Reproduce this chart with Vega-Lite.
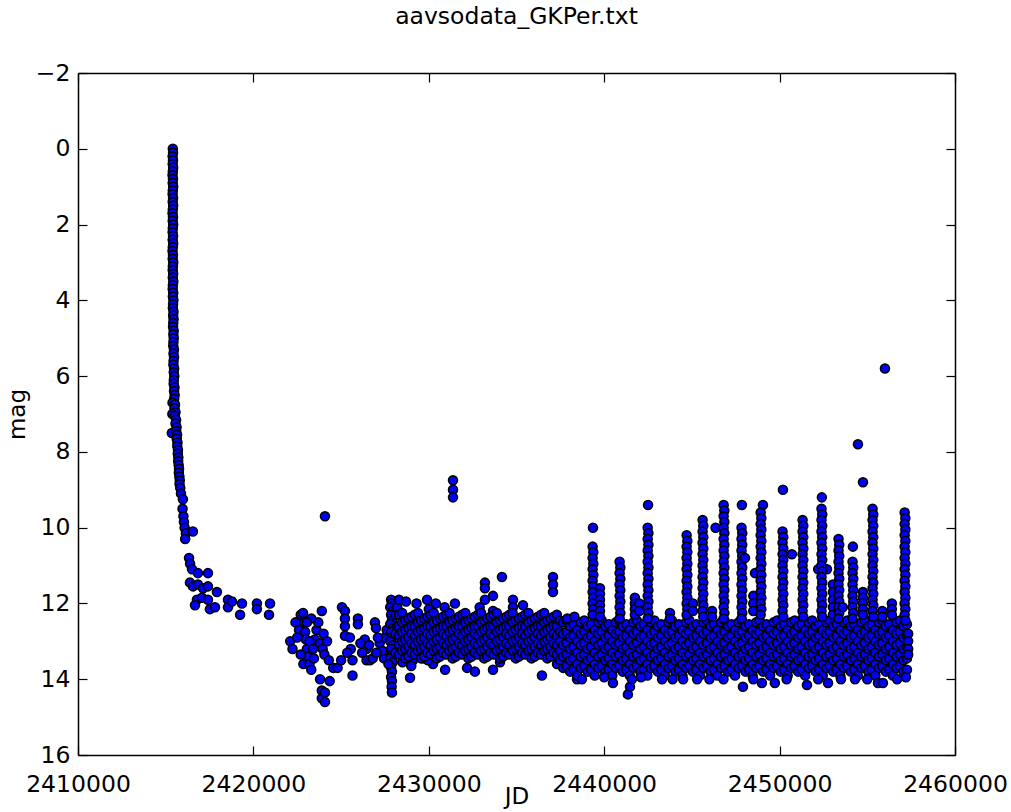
{
"$schema":"https://vega.github.io/schema/vega-lite/v6.json",
"width":877,"height":682,"autosize":"none",
"padding":{"left":78,"top":73,"right":56,"bottom":57},
"background":"white",
"title":{"text":"aavsodata_GKPer.txt","fontSize":23.5,"font":"DejaVu Sans","fontWeight":"normal","color":"black","offset":33,"anchor":"middle"},
"config":{"view":{"stroke":null},"axis":{"domainColor":"black","domainWidth":1.5,"tickColor":"black","tickSize":-9,"tickWidth":1.2,"grid":false,"labelFont":"DejaVu Sans","labelFontSize":23.5,"labelColor":"black","titleFont":"DejaVu Sans","titleFontSize":23,"titleFontWeight":"normal","titleColor":"black","labelFlush":false,"labelOverlap":false}},
"resolve":{"axis":{"x":"independent","y":"independent"}},
"layer":[
{"data":{"values":[
{"JD":2415405,"mag":0.0},{"JD":2415420,"mag":0.1},{"JD":2415395,"mag":0.2},{"JD":2415415,"mag":0.3},{"JD":2415400,"mag":0.4},{"JD":2415425,"mag":0.5},{"JD":2415405,"mag":0.6},{"JD":2415390,"mag":0.7},{"JD":2415415,"mag":0.8},{"JD":2415400,"mag":0.9},
{"JD":2415425,"mag":1.0},{"JD":2415405,"mag":1.1},{"JD":2415395,"mag":1.2},{"JD":2415420,"mag":1.3},{"JD":2415400,"mag":1.4},{"JD":2415425,"mag":1.5},{"JD":2415405,"mag":1.6},{"JD":2415390,"mag":1.7},{"JD":2415415,"mag":1.8},{"JD":2415400,"mag":1.9},
{"JD":2415425,"mag":2.0},{"JD":2415405,"mag":2.1},{"JD":2415395,"mag":2.2},{"JD":2415420,"mag":2.3},{"JD":2415400,"mag":2.4},{"JD":2415425,"mag":2.5},{"JD":2415405,"mag":2.6},{"JD":2415390,"mag":2.7},{"JD":2415415,"mag":2.8},{"JD":2415400,"mag":2.9},
{"JD":2415430,"mag":3.0},{"JD":2415410,"mag":3.1},{"JD":2415400,"mag":3.2},{"JD":2415425,"mag":3.3},{"JD":2415405,"mag":3.4},{"JD":2415435,"mag":3.5},{"JD":2415410,"mag":3.6},{"JD":2415400,"mag":3.7},{"JD":2415430,"mag":3.8},{"JD":2415410,"mag":3.9},
{"JD":2415440,"mag":4.0},{"JD":2415420,"mag":4.1},{"JD":2415410,"mag":4.2},{"JD":2415445,"mag":4.3},{"JD":2415425,"mag":4.4},{"JD":2415450,"mag":4.5},{"JD":2415430,"mag":4.6},{"JD":2415420,"mag":4.7},{"JD":2415455,"mag":4.8},{"JD":2415435,"mag":4.9},
{"JD":2415460,"mag":5.0},{"JD":2415440,"mag":5.1},{"JD":2415430,"mag":5.2},{"JD":2415470,"mag":5.3},{"JD":2415445,"mag":5.4},{"JD":2415475,"mag":5.5},{"JD":2415450,"mag":5.6},{"JD":2415440,"mag":5.7},{"JD":2415480,"mag":5.8},{"JD":2415460,"mag":5.9},
{"JD":2415490,"mag":6.0},{"JD":2415465,"mag":6.1},{"JD":2415455,"mag":6.2},{"JD":2415500,"mag":6.3},{"JD":2415475,"mag":6.4},{"JD":2415510,"mag":6.5},{"JD":2415485,"mag":6.6},{"JD":2415390,"mag":6.7},{"JD":2415530,"mag":6.75},{"JD":2415500,"mag":6.85},
{"JD":2415560,"mag":6.95},{"JD":2415380,"mag":7.0},{"JD":2415520,"mag":7.05},{"JD":2415590,"mag":7.15},{"JD":2415560,"mag":7.25},{"JD":2415620,"mag":7.35},{"JD":2415350,"mag":7.5},{"JD":2415600,"mag":7.45},{"JD":2415650,"mag":7.55},{"JD":2415630,"mag":7.65},
{"JD":2415670,"mag":7.75},{"JD":2415660,"mag":7.85},{"JD":2415700,"mag":7.95},{"JD":2415690,"mag":8.05},{"JD":2415720,"mag":8.15},{"JD":2415710,"mag":8.25},{"JD":2415740,"mag":8.35},{"JD":2415760,"mag":8.45},{"JD":2415750,"mag":8.55},{"JD":2415780,"mag":8.65},
{"JD":2415800,"mag":8.75},{"JD":2415790,"mag":8.85},{"JD":2415830,"mag":8.95},{"JD":2415870,"mag":9.1},{"JD":2415980,"mag":9.25},{"JD":2415960,"mag":9.5},{"JD":2416010,"mag":9.7},{"JD":2416040,"mag":9.85},{"JD":2416080,"mag":10.0},{"JD":2416150,"mag":10.15},
{"JD":2416110,"mag":10.3},{"JD":2416550,"mag":10.1},{"JD":2416330,"mag":10.8},{"JD":2416390,"mag":10.95},{"JD":2416500,"mag":11.1},{"JD":2416840,"mag":11.2},{"JD":2417410,"mag":11.2},{"JD":2416380,"mag":11.45},{"JD":2416560,"mag":11.55},{"JD":2416840,"mag":11.5},
{"JD":2417130,"mag":11.6},{"JD":2417410,"mag":11.55},{"JD":2417920,"mag":11.7},{"JD":2416780,"mag":11.9},{"JD":2416670,"mag":12.05},{"JD":2417070,"mag":11.85},{"JD":2417410,"mag":11.9},{"JD":2417520,"mag":12.15},{"JD":2417810,"mag":12.1},{"JD":2418550,"mag":11.9},
{"JD":2418550,"mag":12.1},{"JD":2418780,"mag":11.95},{"JD":2419350,"mag":12.0},{"JD":2419240,"mag":12.3},{"JD":2420200,"mag":12.0},{"JD":2420200,"mag":12.15},{"JD":2420950,"mag":12.0},{"JD":2420890,"mag":12.3},
{"JD":2422100,"mag":13.0},{"JD":2422230,"mag":13.2},{"JD":2422400,"mag":12.5},{"JD":2422600,"mag":12.7},{"JD":2422700,"mag":12.3},{"JD":2422830,"mag":12.25},{"JD":2422900,"mag":12.5},{"JD":2422950,"mag":12.75},{"JD":2423000,"mag":12.95},{"JD":2423050,"mag":13.2},
{"JD":2423100,"mag":13.4},{"JD":2422850,"mag":13.6},{"JD":2422700,"mag":13.35},{"JD":2423200,"mag":13.6},{"JD":2423300,"mag":13.75},{"JD":2423450,"mag":13.45},{"JD":2423500,"mag":12.95},{"JD":2423600,"mag":12.7},{"JD":2423700,"mag":12.5},{"JD":2423900,"mag":12.2},
{"JD":2423800,"mag":13.05},{"JD":2423950,"mag":13.2},{"JD":2424050,"mag":13.35},{"JD":2423800,"mag":14.0},{"JD":2423900,"mag":14.3},{"JD":2423900,"mag":14.5},{"JD":2424080,"mag":14.6},{"JD":2424080,"mag":14.35},{"JD":2424350,"mag":14.05},{"JD":2424550,"mag":13.7},
{"JD":2424800,"mag":13.7},{"JD":2424080,"mag":9.7},{"JD":2423300,"mag":12.4},{"JD":2423050,"mag":12.5},{"JD":2423200,"mag":13.0},{"JD":2424000,"mag":12.8},{"JD":2424200,"mag":13.0},{"JD":2424300,"mag":13.5},{"JD":2422500,"mag":12.9},{"JD":2423400,"mag":13.2},
{"JD":2425050,"mag":12.1},{"JD":2425220,"mag":12.2},{"JD":2425220,"mag":12.4},{"JD":2425220,"mag":12.6},{"JD":2425220,"mag":12.85},{"JD":2425500,"mag":12.9},{"JD":2425550,"mag":13.2},{"JD":2425650,"mag":13.5},{"JD":2425650,"mag":13.9},{"JD":2425960,"mag":12.4},
{"JD":2425960,"mag":12.55},{"JD":2426350,"mag":12.95},{"JD":2426450,"mag":13.2},{"JD":2426450,"mag":13.5},{"JD":2426650,"mag":13.5},{"JD":2426800,"mag":13.45},{"JD":2426930,"mag":12.5},{"JD":2426990,"mag":12.65},{"JD":2427200,"mag":13.05},{"JD":2427450,"mag":13.45},
{"JD":2427350,"mag":13.25},{"JD":2427500,"mag":12.9},{"JD":2425000,"mag":13.5},{"JD":2425350,"mag":13.3},{"JD":2426100,"mag":13.05},{"JD":2426200,"mag":13.3},{"JD":2426600,"mag":13.1},{"JD":2427000,"mag":13.3},{"JD":2427100,"mag":12.9},{"JD":2427600,"mag":12.7},
{"JD":2427850,"mag":11.9},{"JD":2427900,"mag":12.0},{"JD":2427800,"mag":12.1},{"JD":2427950,"mag":12.2},{"JD":2427850,"mag":12.3},{"JD":2427900,"mag":12.45},{"JD":2427800,"mag":12.55},{"JD":2427950,"mag":12.65},{"JD":2427850,"mag":12.75},{"JD":2427900,"mag":12.9},
{"JD":2427800,"mag":13.0},{"JD":2427950,"mag":13.1},{"JD":2427850,"mag":13.2},{"JD":2427900,"mag":13.35},{"JD":2427800,"mag":13.45},{"JD":2427950,"mag":13.55},{"JD":2427850,"mag":13.7},{"JD":2427900,"mag":13.8},{"JD":2427850,"mag":13.95},{"JD":2427900,"mag":14.05},
{"JD":2427880,"mag":14.2},{"JD":2427900,"mag":14.35},{"JD":2427700,"mag":13.6},{"JD":2428100,"mag":12.3},{"JD":2428100,"mag":12.8},{"JD":2428100,"mag":13.3},{"JD":2428200,"mag":12.1},{"JD":2428200,"mag":12.6},
{"JD":2428300,"mag":11.9},{"JD":2428700,"mag":11.95},{"JD":2429300,"mag":12.0},{"JD":2429900,"mag":11.9},{"JD":2430400,"mag":12.0},{"JD":2430900,"mag":12.1},{"JD":2431490,"mag":12.0},{"JD":2428500,"mag":13.55},{"JD":2429100,"mag":13.5},{"JD":2429700,"mag":13.45},
{"JD":2430930,"mag":13.75},{"JD":2428930,"mag":13.96},{"JD":2429670,"mag":13.4},{"JD":2430240,"mag":13.6},{"JD":2429950,"mag":13.5},{"JD":2432180,"mag":13.7},{"JD":2432630,"mag":13.8},{"JD":2433660,"mag":13.75},{"JD":2434060,"mag":13.55},{"JD":2436450,"mag":13.9},
{"JD":2437310,"mag":13.6},{"JD":2438450,"mag":14.0},{"JD":2431380,"mag":8.75},{"JD":2431380,"mag":9.0},{"JD":2431380,"mag":9.2},{"JD":2434170,"mag":11.3},{"JD":2433200,"mag":11.45},{"JD":2433200,"mag":11.6},{"JD":2433660,"mag":11.8},{"JD":2433200,"mag":11.9},
{"JD":2432900,"mag":12.1},{"JD":2433660,"mag":12.2},{"JD":2437080,"mag":11.3},{"JD":2437080,"mag":11.5},{"JD":2437080,"mag":11.7},{"JD":2434800,"mag":11.9},{"JD":2435370,"mag":12.05},{"JD":2434800,"mag":12.1},{"JD":2430000,"mag":12.15},{"JD":2429000,"mag":13.65},
{"JD":2428300,"mag":12.3},{"JD":2428300,"mag":12.6},{"JD":2428300,"mag":12.85},{"JD":2428300,"mag":13.1},{"JD":2428300,"mag":13.35},
{"JD":2428480,"mag":12.25},{"JD":2428480,"mag":12.5},{"JD":2428480,"mag":12.75},{"JD":2428480,"mag":13.0},{"JD":2428480,"mag":13.25},
{"JD":2428660,"mag":12.45},{"JD":2428660,"mag":12.7},{"JD":2428660,"mag":12.95},{"JD":2428660,"mag":13.2},{"JD":2428660,"mag":13.45},
{"JD":2428840,"mag":12.4},{"JD":2428840,"mag":12.65},{"JD":2428840,"mag":12.9},{"JD":2428840,"mag":13.15},{"JD":2428840,"mag":13.4},
{"JD":2429020,"mag":12.35},{"JD":2429020,"mag":12.6},{"JD":2429020,"mag":12.8},{"JD":2429020,"mag":13.05},{"JD":2429020,"mag":13.3},
{"JD":2429200,"mag":12.3},{"JD":2429200,"mag":12.6},{"JD":2429200,"mag":12.85},{"JD":2429200,"mag":13.1},{"JD":2429200,"mag":13.35},
{"JD":2429380,"mag":12.25},{"JD":2429380,"mag":12.5},{"JD":2429380,"mag":12.75},{"JD":2429380,"mag":13.0},{"JD":2429380,"mag":13.25},
{"JD":2429560,"mag":12.45},{"JD":2429560,"mag":12.7},{"JD":2429560,"mag":12.95},{"JD":2429560,"mag":13.2},{"JD":2429560,"mag":13.45},
{"JD":2429740,"mag":12.4},{"JD":2429740,"mag":12.65},{"JD":2429740,"mag":12.9},{"JD":2429740,"mag":13.15},{"JD":2429740,"mag":13.4},
{"JD":2429920,"mag":12.35},{"JD":2429920,"mag":12.6},{"JD":2429920,"mag":12.8},{"JD":2429920,"mag":13.05},{"JD":2429920,"mag":13.3},
{"JD":2430100,"mag":12.3},{"JD":2430100,"mag":12.6},{"JD":2430100,"mag":12.85},{"JD":2430100,"mag":13.1},{"JD":2430100,"mag":13.35},
{"JD":2430280,"mag":12.25},{"JD":2430280,"mag":12.5},{"JD":2430280,"mag":12.75},{"JD":2430280,"mag":13.0},{"JD":2430280,"mag":13.25},
{"JD":2430460,"mag":12.45},{"JD":2430460,"mag":12.7},{"JD":2430460,"mag":12.95},{"JD":2430460,"mag":13.2},{"JD":2430460,"mag":13.45},
{"JD":2430640,"mag":12.4},{"JD":2430640,"mag":12.65},{"JD":2430640,"mag":12.9},{"JD":2430640,"mag":13.15},{"JD":2430640,"mag":13.4},
{"JD":2430820,"mag":12.35},{"JD":2430820,"mag":12.6},{"JD":2430820,"mag":12.8},{"JD":2430820,"mag":13.05},{"JD":2430820,"mag":13.3},
{"JD":2431000,"mag":12.3},{"JD":2431000,"mag":12.6},{"JD":2431000,"mag":12.85},{"JD":2431000,"mag":13.1},{"JD":2431000,"mag":13.35},
{"JD":2431180,"mag":12.25},{"JD":2431180,"mag":12.5},{"JD":2431180,"mag":12.75},{"JD":2431180,"mag":13.0},{"JD":2431180,"mag":13.25},
{"JD":2431360,"mag":12.45},{"JD":2431360,"mag":12.7},{"JD":2431360,"mag":12.95},{"JD":2431360,"mag":13.2},{"JD":2431360,"mag":13.45},
{"JD":2431540,"mag":12.4},{"JD":2431540,"mag":12.65},{"JD":2431540,"mag":12.9},{"JD":2431540,"mag":13.15},{"JD":2431540,"mag":13.4},
{"JD":2431720,"mag":12.35},{"JD":2431720,"mag":12.6},{"JD":2431720,"mag":12.8},{"JD":2431720,"mag":13.05},{"JD":2431720,"mag":13.3},
{"JD":2431900,"mag":12.3},{"JD":2431900,"mag":12.6},{"JD":2431900,"mag":12.85},{"JD":2431900,"mag":13.1},{"JD":2431900,"mag":13.35},
{"JD":2432080,"mag":12.25},{"JD":2432080,"mag":12.5},{"JD":2432080,"mag":12.75},{"JD":2432080,"mag":13.0},{"JD":2432080,"mag":13.25},
{"JD":2432260,"mag":12.45},{"JD":2432260,"mag":12.7},{"JD":2432260,"mag":12.95},{"JD":2432260,"mag":13.2},{"JD":2432260,"mag":13.45},
{"JD":2432440,"mag":12.4},{"JD":2432440,"mag":12.65},{"JD":2432440,"mag":12.9},{"JD":2432440,"mag":13.15},{"JD":2432440,"mag":13.4},
{"JD":2432620,"mag":12.35},{"JD":2432620,"mag":12.6},{"JD":2432620,"mag":12.8},{"JD":2432620,"mag":13.05},{"JD":2432620,"mag":13.3},
{"JD":2432800,"mag":12.3},{"JD":2432800,"mag":12.6},{"JD":2432800,"mag":12.85},{"JD":2432800,"mag":13.1},{"JD":2432800,"mag":13.35},
{"JD":2432980,"mag":12.25},{"JD":2432980,"mag":12.5},{"JD":2432980,"mag":12.75},{"JD":2432980,"mag":13.0},{"JD":2432980,"mag":13.25},
{"JD":2433160,"mag":12.45},{"JD":2433160,"mag":12.7},{"JD":2433160,"mag":12.95},{"JD":2433160,"mag":13.2},{"JD":2433160,"mag":13.45},
{"JD":2433340,"mag":12.4},{"JD":2433340,"mag":12.65},{"JD":2433340,"mag":12.9},{"JD":2433340,"mag":13.15},{"JD":2433340,"mag":13.4},
{"JD":2433520,"mag":12.35},{"JD":2433520,"mag":12.6},{"JD":2433520,"mag":12.8},{"JD":2433520,"mag":13.05},{"JD":2433520,"mag":13.3},
{"JD":2433700,"mag":12.3},{"JD":2433700,"mag":12.6},{"JD":2433700,"mag":12.85},{"JD":2433700,"mag":13.1},{"JD":2433700,"mag":13.35},
{"JD":2433880,"mag":12.25},{"JD":2433880,"mag":12.5},{"JD":2433880,"mag":12.75},{"JD":2433880,"mag":13.0},{"JD":2433880,"mag":13.25},
{"JD":2434060,"mag":12.45},{"JD":2434060,"mag":12.7},{"JD":2434060,"mag":12.95},{"JD":2434060,"mag":13.2},{"JD":2434060,"mag":13.45},
{"JD":2434240,"mag":12.4},{"JD":2434240,"mag":12.65},{"JD":2434240,"mag":12.9},{"JD":2434240,"mag":13.15},{"JD":2434240,"mag":13.4},
{"JD":2434420,"mag":12.35},{"JD":2434420,"mag":12.6},{"JD":2434420,"mag":12.8},{"JD":2434420,"mag":13.05},{"JD":2434420,"mag":13.3},
{"JD":2434600,"mag":12.3},{"JD":2434600,"mag":12.6},{"JD":2434600,"mag":12.85},{"JD":2434600,"mag":13.1},{"JD":2434600,"mag":13.35},
{"JD":2434780,"mag":12.25},{"JD":2434780,"mag":12.5},{"JD":2434780,"mag":12.75},{"JD":2434780,"mag":13.0},{"JD":2434780,"mag":13.25},
{"JD":2434960,"mag":12.45},{"JD":2434960,"mag":12.7},{"JD":2434960,"mag":12.95},{"JD":2434960,"mag":13.2},{"JD":2434960,"mag":13.45},
{"JD":2435140,"mag":12.4},{"JD":2435140,"mag":12.65},{"JD":2435140,"mag":12.9},{"JD":2435140,"mag":13.15},{"JD":2435140,"mag":13.4},
{"JD":2435320,"mag":12.35},{"JD":2435320,"mag":12.6},{"JD":2435320,"mag":12.8},{"JD":2435320,"mag":13.05},{"JD":2435320,"mag":13.3},
{"JD":2435500,"mag":12.3},{"JD":2435500,"mag":12.6},{"JD":2435500,"mag":12.85},{"JD":2435500,"mag":13.1},{"JD":2435500,"mag":13.35},
{"JD":2435680,"mag":12.25},{"JD":2435680,"mag":12.5},{"JD":2435680,"mag":12.75},{"JD":2435680,"mag":13.0},{"JD":2435680,"mag":13.25},
{"JD":2435860,"mag":12.45},{"JD":2435860,"mag":12.7},{"JD":2435860,"mag":12.95},{"JD":2435860,"mag":13.2},{"JD":2435860,"mag":13.45},
{"JD":2436040,"mag":12.4},{"JD":2436040,"mag":12.65},{"JD":2436040,"mag":12.9},{"JD":2436040,"mag":13.15},{"JD":2436040,"mag":13.4},
{"JD":2436220,"mag":12.35},{"JD":2436220,"mag":12.6},{"JD":2436220,"mag":12.8},{"JD":2436220,"mag":13.05},{"JD":2436220,"mag":13.3},
{"JD":2436400,"mag":12.3},{"JD":2436400,"mag":12.6},{"JD":2436400,"mag":12.85},{"JD":2436400,"mag":13.1},{"JD":2436400,"mag":13.35},
{"JD":2436580,"mag":12.25},{"JD":2436580,"mag":12.5},{"JD":2436580,"mag":12.75},{"JD":2436580,"mag":13.0},{"JD":2436580,"mag":13.25},
{"JD":2436760,"mag":12.45},{"JD":2436760,"mag":12.7},{"JD":2436760,"mag":12.95},{"JD":2436760,"mag":13.2},{"JD":2436760,"mag":13.45},
{"JD":2436940,"mag":12.4},{"JD":2436940,"mag":12.65},{"JD":2436940,"mag":12.9},{"JD":2436940,"mag":13.15},{"JD":2436940,"mag":13.4},
{"JD":2437120,"mag":12.35},{"JD":2437120,"mag":12.6},{"JD":2437120,"mag":12.8},{"JD":2437120,"mag":13.05},{"JD":2437120,"mag":13.3},
{"JD":2437300,"mag":12.3},{"JD":2437300,"mag":12.6},{"JD":2437300,"mag":12.85},{"JD":2437300,"mag":13.1},{"JD":2437300,"mag":13.35},
{"JD":2437480,"mag":12.45},{"JD":2437480,"mag":12.75},{"JD":2437480,"mag":13.0},{"JD":2437480,"mag":13.25},{"JD":2437480,"mag":13.5},
{"JD":2437660,"mag":12.5},{"JD":2437660,"mag":12.8},{"JD":2437660,"mag":13.1},{"JD":2437660,"mag":13.4},{"JD":2437660,"mag":13.7},
{"JD":2437860,"mag":12.45},{"JD":2437860,"mag":12.75},{"JD":2437860,"mag":13.05},{"JD":2437860,"mag":13.35},{"JD":2437860,"mag":13.65},
{"JD":2438060,"mag":12.6},{"JD":2438060,"mag":12.9},{"JD":2438060,"mag":13.2},{"JD":2438060,"mag":13.5},{"JD":2438060,"mag":13.8},
{"JD":2438260,"mag":12.55},{"JD":2438260,"mag":12.85},{"JD":2438260,"mag":13.15},{"JD":2438260,"mag":13.45},{"JD":2438260,"mag":13.75},
{"JD":2438460,"mag":12.7},{"JD":2438460,"mag":13.0},{"JD":2438460,"mag":13.3},{"JD":2438460,"mag":13.6},{"JD":2438460,"mag":13.9},
{"JD":2438660,"mag":12.5},{"JD":2438660,"mag":12.8},{"JD":2438660,"mag":13.1},{"JD":2438660,"mag":13.4},{"JD":2438660,"mag":13.7},
{"JD":2438860,"mag":12.45},{"JD":2438860,"mag":12.75},{"JD":2438860,"mag":13.05},{"JD":2438860,"mag":13.35},{"JD":2438860,"mag":13.65},
{"JD":2439060,"mag":12.6},{"JD":2439060,"mag":12.9},{"JD":2439060,"mag":13.2},{"JD":2439060,"mag":13.5},{"JD":2439060,"mag":13.8},
{"JD":2439260,"mag":12.55},{"JD":2439260,"mag":12.85},{"JD":2439260,"mag":13.15},{"JD":2439260,"mag":13.45},{"JD":2439260,"mag":13.75},
{"JD":2439460,"mag":12.7},{"JD":2439460,"mag":13.0},{"JD":2439460,"mag":13.3},{"JD":2439460,"mag":13.6},{"JD":2439460,"mag":13.9},
{"JD":2439660,"mag":12.5},{"JD":2439660,"mag":12.8},{"JD":2439660,"mag":13.1},{"JD":2439660,"mag":13.4},{"JD":2439660,"mag":13.7},
{"JD":2439860,"mag":12.45},{"JD":2439860,"mag":12.75},{"JD":2439860,"mag":13.05},{"JD":2439860,"mag":13.35},{"JD":2439860,"mag":13.65},
{"JD":2440060,"mag":12.6},{"JD":2440060,"mag":12.9},{"JD":2440060,"mag":13.2},{"JD":2440060,"mag":13.5},{"JD":2440060,"mag":13.8},
{"JD":2440260,"mag":12.55},{"JD":2440260,"mag":12.85},{"JD":2440260,"mag":13.15},{"JD":2440260,"mag":13.45},{"JD":2440260,"mag":13.75},
{"JD":2440460,"mag":12.7},{"JD":2440460,"mag":13.0},{"JD":2440460,"mag":13.3},{"JD":2440460,"mag":13.6},{"JD":2440460,"mag":13.9},
{"JD":2440660,"mag":12.5},{"JD":2440660,"mag":12.8},{"JD":2440660,"mag":13.1},{"JD":2440660,"mag":13.4},{"JD":2440660,"mag":13.7},
{"JD":2440860,"mag":12.45},{"JD":2440860,"mag":12.75},{"JD":2440860,"mag":13.05},{"JD":2440860,"mag":13.35},{"JD":2440860,"mag":13.65},
{"JD":2441060,"mag":12.6},{"JD":2441060,"mag":12.9},{"JD":2441060,"mag":13.2},{"JD":2441060,"mag":13.5},{"JD":2441060,"mag":13.8},
{"JD":2441260,"mag":12.55},{"JD":2441260,"mag":12.85},{"JD":2441260,"mag":13.15},{"JD":2441260,"mag":13.45},{"JD":2441260,"mag":13.75},
{"JD":2441460,"mag":12.7},{"JD":2441460,"mag":13.0},{"JD":2441460,"mag":13.3},{"JD":2441460,"mag":13.6},{"JD":2441460,"mag":13.9},
{"JD":2441660,"mag":12.5},{"JD":2441660,"mag":12.8},{"JD":2441660,"mag":13.1},{"JD":2441660,"mag":13.4},{"JD":2441660,"mag":13.7},
{"JD":2441860,"mag":12.45},{"JD":2441860,"mag":12.75},{"JD":2441860,"mag":13.05},{"JD":2441860,"mag":13.35},{"JD":2441860,"mag":13.65},
{"JD":2442060,"mag":12.6},{"JD":2442060,"mag":12.9},{"JD":2442060,"mag":13.2},{"JD":2442060,"mag":13.5},{"JD":2442060,"mag":13.8},
{"JD":2442260,"mag":12.55},{"JD":2442260,"mag":12.85},{"JD":2442260,"mag":13.15},{"JD":2442260,"mag":13.45},{"JD":2442260,"mag":13.75},
{"JD":2442460,"mag":12.7},{"JD":2442460,"mag":13.0},{"JD":2442460,"mag":13.3},{"JD":2442460,"mag":13.6},{"JD":2442460,"mag":13.9},
{"JD":2442660,"mag":12.5},{"JD":2442660,"mag":12.8},{"JD":2442660,"mag":13.1},{"JD":2442660,"mag":13.4},{"JD":2442660,"mag":13.7},
{"JD":2442860,"mag":12.45},{"JD":2442860,"mag":12.75},{"JD":2442860,"mag":13.05},{"JD":2442860,"mag":13.35},{"JD":2442860,"mag":13.65},
{"JD":2443060,"mag":12.6},{"JD":2443060,"mag":12.9},{"JD":2443060,"mag":13.2},{"JD":2443060,"mag":13.5},{"JD":2443060,"mag":13.8},
{"JD":2443260,"mag":12.55},{"JD":2443260,"mag":12.85},{"JD":2443260,"mag":13.15},{"JD":2443260,"mag":13.45},{"JD":2443260,"mag":13.75},
{"JD":2443460,"mag":12.7},{"JD":2443460,"mag":13.0},{"JD":2443460,"mag":13.3},{"JD":2443460,"mag":13.6},{"JD":2443460,"mag":13.9},
{"JD":2443660,"mag":12.5},{"JD":2443660,"mag":12.8},{"JD":2443660,"mag":13.1},{"JD":2443660,"mag":13.4},{"JD":2443660,"mag":13.7},
{"JD":2443860,"mag":12.45},{"JD":2443860,"mag":12.75},{"JD":2443860,"mag":13.05},{"JD":2443860,"mag":13.35},{"JD":2443860,"mag":13.65},
{"JD":2444060,"mag":12.6},{"JD":2444060,"mag":12.9},{"JD":2444060,"mag":13.2},{"JD":2444060,"mag":13.5},{"JD":2444060,"mag":13.8},
{"JD":2444260,"mag":12.55},{"JD":2444260,"mag":12.85},{"JD":2444260,"mag":13.15},{"JD":2444260,"mag":13.45},{"JD":2444260,"mag":13.75},
{"JD":2444460,"mag":12.7},{"JD":2444460,"mag":13.0},{"JD":2444460,"mag":13.3},{"JD":2444460,"mag":13.6},{"JD":2444460,"mag":13.9},
{"JD":2444660,"mag":12.5},{"JD":2444660,"mag":12.8},{"JD":2444660,"mag":13.1},{"JD":2444660,"mag":13.4},{"JD":2444660,"mag":13.7},
{"JD":2444860,"mag":12.45},{"JD":2444860,"mag":12.75},{"JD":2444860,"mag":13.05},{"JD":2444860,"mag":13.35},{"JD":2444860,"mag":13.65},
{"JD":2445060,"mag":12.6},{"JD":2445060,"mag":12.9},{"JD":2445060,"mag":13.2},{"JD":2445060,"mag":13.5},{"JD":2445060,"mag":13.8},
{"JD":2445260,"mag":12.55},{"JD":2445260,"mag":12.85},{"JD":2445260,"mag":13.15},{"JD":2445260,"mag":13.45},{"JD":2445260,"mag":13.75},
{"JD":2445460,"mag":12.7},{"JD":2445460,"mag":13.0},{"JD":2445460,"mag":13.3},{"JD":2445460,"mag":13.6},{"JD":2445460,"mag":13.9},
{"JD":2445660,"mag":12.5},{"JD":2445660,"mag":12.8},{"JD":2445660,"mag":13.1},{"JD":2445660,"mag":13.4},{"JD":2445660,"mag":13.7},
{"JD":2445860,"mag":12.45},{"JD":2445860,"mag":12.75},{"JD":2445860,"mag":13.05},{"JD":2445860,"mag":13.35},{"JD":2445860,"mag":13.65},
{"JD":2446060,"mag":12.6},{"JD":2446060,"mag":12.9},{"JD":2446060,"mag":13.2},{"JD":2446060,"mag":13.5},{"JD":2446060,"mag":13.8},
{"JD":2446260,"mag":12.55},{"JD":2446260,"mag":12.85},{"JD":2446260,"mag":13.15},{"JD":2446260,"mag":13.45},{"JD":2446260,"mag":13.75},
{"JD":2446460,"mag":12.7},{"JD":2446460,"mag":13.0},{"JD":2446460,"mag":13.3},{"JD":2446460,"mag":13.6},{"JD":2446460,"mag":13.9},
{"JD":2446660,"mag":12.5},{"JD":2446660,"mag":12.8},{"JD":2446660,"mag":13.1},{"JD":2446660,"mag":13.4},{"JD":2446660,"mag":13.7},
{"JD":2446860,"mag":12.45},{"JD":2446860,"mag":12.75},{"JD":2446860,"mag":13.05},{"JD":2446860,"mag":13.35},{"JD":2446860,"mag":13.65},
{"JD":2447060,"mag":12.6},{"JD":2447060,"mag":12.9},{"JD":2447060,"mag":13.2},{"JD":2447060,"mag":13.5},{"JD":2447060,"mag":13.8},
{"JD":2447260,"mag":12.55},{"JD":2447260,"mag":12.85},{"JD":2447260,"mag":13.15},{"JD":2447260,"mag":13.45},{"JD":2447260,"mag":13.75},
{"JD":2447460,"mag":12.7},{"JD":2447460,"mag":13.0},{"JD":2447460,"mag":13.3},{"JD":2447460,"mag":13.6},{"JD":2447460,"mag":13.9},
{"JD":2447660,"mag":12.5},{"JD":2447660,"mag":12.8},{"JD":2447660,"mag":13.1},{"JD":2447660,"mag":13.4},{"JD":2447660,"mag":13.7},
{"JD":2447860,"mag":12.45},{"JD":2447860,"mag":12.75},{"JD":2447860,"mag":13.05},{"JD":2447860,"mag":13.35},{"JD":2447860,"mag":13.65},
{"JD":2448060,"mag":12.6},{"JD":2448060,"mag":12.9},{"JD":2448060,"mag":13.2},{"JD":2448060,"mag":13.5},{"JD":2448060,"mag":13.8},
{"JD":2448260,"mag":12.55},{"JD":2448260,"mag":12.85},{"JD":2448260,"mag":13.15},{"JD":2448260,"mag":13.45},{"JD":2448260,"mag":13.75},
{"JD":2448460,"mag":12.7},{"JD":2448460,"mag":13.0},{"JD":2448460,"mag":13.3},{"JD":2448460,"mag":13.6},{"JD":2448460,"mag":13.9},
{"JD":2448660,"mag":12.5},{"JD":2448660,"mag":12.8},{"JD":2448660,"mag":13.1},{"JD":2448660,"mag":13.4},{"JD":2448660,"mag":13.7},
{"JD":2448860,"mag":12.45},{"JD":2448860,"mag":12.75},{"JD":2448860,"mag":13.05},{"JD":2448860,"mag":13.35},{"JD":2448860,"mag":13.65},
{"JD":2449060,"mag":12.6},{"JD":2449060,"mag":12.9},{"JD":2449060,"mag":13.2},{"JD":2449060,"mag":13.5},{"JD":2449060,"mag":13.8},
{"JD":2449260,"mag":12.55},{"JD":2449260,"mag":12.85},{"JD":2449260,"mag":13.15},{"JD":2449260,"mag":13.45},{"JD":2449260,"mag":13.75},
{"JD":2449460,"mag":12.7},{"JD":2449460,"mag":13.0},{"JD":2449460,"mag":13.3},{"JD":2449460,"mag":13.6},{"JD":2449460,"mag":13.9},
{"JD":2449660,"mag":12.5},{"JD":2449660,"mag":12.8},{"JD":2449660,"mag":13.1},{"JD":2449660,"mag":13.4},{"JD":2449660,"mag":13.7},
{"JD":2449860,"mag":12.45},{"JD":2449860,"mag":12.75},{"JD":2449860,"mag":13.05},{"JD":2449860,"mag":13.35},{"JD":2449860,"mag":13.65},
{"JD":2450060,"mag":12.6},{"JD":2450060,"mag":12.9},{"JD":2450060,"mag":13.2},{"JD":2450060,"mag":13.5},{"JD":2450060,"mag":13.8},
{"JD":2450260,"mag":12.55},{"JD":2450260,"mag":12.85},{"JD":2450260,"mag":13.15},{"JD":2450260,"mag":13.45},{"JD":2450260,"mag":13.75},
{"JD":2450460,"mag":12.7},{"JD":2450460,"mag":13.0},{"JD":2450460,"mag":13.3},{"JD":2450460,"mag":13.6},{"JD":2450460,"mag":13.9},
{"JD":2450660,"mag":12.5},{"JD":2450660,"mag":12.8},{"JD":2450660,"mag":13.1},{"JD":2450660,"mag":13.4},{"JD":2450660,"mag":13.7},
{"JD":2450860,"mag":12.45},{"JD":2450860,"mag":12.75},{"JD":2450860,"mag":13.05},{"JD":2450860,"mag":13.35},{"JD":2450860,"mag":13.65},
{"JD":2451060,"mag":12.6},{"JD":2451060,"mag":12.9},{"JD":2451060,"mag":13.2},{"JD":2451060,"mag":13.5},{"JD":2451060,"mag":13.8},
{"JD":2451260,"mag":12.55},{"JD":2451260,"mag":12.85},{"JD":2451260,"mag":13.15},{"JD":2451260,"mag":13.45},{"JD":2451260,"mag":13.75},
{"JD":2451460,"mag":12.7},{"JD":2451460,"mag":13.0},{"JD":2451460,"mag":13.3},{"JD":2451460,"mag":13.6},{"JD":2451460,"mag":13.9},
{"JD":2451660,"mag":12.5},{"JD":2451660,"mag":12.8},{"JD":2451660,"mag":13.1},{"JD":2451660,"mag":13.4},{"JD":2451660,"mag":13.7},
{"JD":2451860,"mag":12.45},{"JD":2451860,"mag":12.75},{"JD":2451860,"mag":13.05},{"JD":2451860,"mag":13.35},{"JD":2451860,"mag":13.65},
{"JD":2452060,"mag":12.6},{"JD":2452060,"mag":12.9},{"JD":2452060,"mag":13.2},{"JD":2452060,"mag":13.5},{"JD":2452060,"mag":13.8},
{"JD":2452260,"mag":12.55},{"JD":2452260,"mag":12.85},{"JD":2452260,"mag":13.15},{"JD":2452260,"mag":13.45},{"JD":2452260,"mag":13.75},
{"JD":2452460,"mag":12.7},{"JD":2452460,"mag":13.0},{"JD":2452460,"mag":13.3},{"JD":2452460,"mag":13.6},{"JD":2452460,"mag":13.9},
{"JD":2452660,"mag":12.5},{"JD":2452660,"mag":12.8},{"JD":2452660,"mag":13.1},{"JD":2452660,"mag":13.4},{"JD":2452660,"mag":13.7},
{"JD":2452860,"mag":12.45},{"JD":2452860,"mag":12.75},{"JD":2452860,"mag":13.05},{"JD":2452860,"mag":13.35},{"JD":2452860,"mag":13.65},
{"JD":2453060,"mag":12.6},{"JD":2453060,"mag":12.9},{"JD":2453060,"mag":13.2},{"JD":2453060,"mag":13.5},{"JD":2453060,"mag":13.8},
{"JD":2453260,"mag":12.55},{"JD":2453260,"mag":12.85},{"JD":2453260,"mag":13.15},{"JD":2453260,"mag":13.45},{"JD":2453260,"mag":13.75},
{"JD":2453460,"mag":12.7},{"JD":2453460,"mag":13.0},{"JD":2453460,"mag":13.3},{"JD":2453460,"mag":13.6},{"JD":2453460,"mag":13.9},
{"JD":2453660,"mag":12.5},{"JD":2453660,"mag":12.8},{"JD":2453660,"mag":13.1},{"JD":2453660,"mag":13.4},{"JD":2453660,"mag":13.7},
{"JD":2453860,"mag":12.45},{"JD":2453860,"mag":12.75},{"JD":2453860,"mag":13.05},{"JD":2453860,"mag":13.35},{"JD":2453860,"mag":13.65},
{"JD":2454060,"mag":12.6},{"JD":2454060,"mag":12.9},{"JD":2454060,"mag":13.2},{"JD":2454060,"mag":13.5},{"JD":2454060,"mag":13.8},
{"JD":2454260,"mag":12.55},{"JD":2454260,"mag":12.85},{"JD":2454260,"mag":13.15},{"JD":2454260,"mag":13.45},{"JD":2454260,"mag":13.75},
{"JD":2454460,"mag":12.7},{"JD":2454460,"mag":13.0},{"JD":2454460,"mag":13.3},{"JD":2454460,"mag":13.6},{"JD":2454460,"mag":13.9},
{"JD":2454660,"mag":12.5},{"JD":2454660,"mag":12.8},{"JD":2454660,"mag":13.1},{"JD":2454660,"mag":13.4},{"JD":2454660,"mag":13.7},
{"JD":2454860,"mag":12.45},{"JD":2454860,"mag":12.75},{"JD":2454860,"mag":13.05},{"JD":2454860,"mag":13.35},{"JD":2454860,"mag":13.65},
{"JD":2455060,"mag":12.6},{"JD":2455060,"mag":12.9},{"JD":2455060,"mag":13.2},{"JD":2455060,"mag":13.5},{"JD":2455060,"mag":13.8},
{"JD":2455260,"mag":12.55},{"JD":2455260,"mag":12.85},{"JD":2455260,"mag":13.15},{"JD":2455260,"mag":13.45},{"JD":2455260,"mag":13.75},
{"JD":2455460,"mag":12.7},{"JD":2455460,"mag":13.0},{"JD":2455460,"mag":13.3},{"JD":2455460,"mag":13.6},{"JD":2455460,"mag":13.9},
{"JD":2455660,"mag":12.5},{"JD":2455660,"mag":12.8},{"JD":2455660,"mag":13.1},{"JD":2455660,"mag":13.4},{"JD":2455660,"mag":13.7},
{"JD":2455860,"mag":12.45},{"JD":2455860,"mag":12.75},{"JD":2455860,"mag":13.05},{"JD":2455860,"mag":13.35},{"JD":2455860,"mag":13.65},
{"JD":2456060,"mag":12.6},{"JD":2456060,"mag":12.9},{"JD":2456060,"mag":13.2},{"JD":2456060,"mag":13.5},{"JD":2456060,"mag":13.8},
{"JD":2456260,"mag":12.55},{"JD":2456260,"mag":12.85},{"JD":2456260,"mag":13.15},{"JD":2456260,"mag":13.45},{"JD":2456260,"mag":13.75},
{"JD":2456460,"mag":12.7},{"JD":2456460,"mag":13.0},{"JD":2456460,"mag":13.3},{"JD":2456460,"mag":13.6},{"JD":2456460,"mag":13.9},
{"JD":2456660,"mag":12.5},{"JD":2456660,"mag":12.8},{"JD":2456660,"mag":13.1},{"JD":2456660,"mag":13.4},{"JD":2456660,"mag":13.7},
{"JD":2456860,"mag":12.45},{"JD":2456860,"mag":12.75},{"JD":2456860,"mag":13.05},{"JD":2456860,"mag":13.35},{"JD":2456860,"mag":13.65},
{"JD":2457060,"mag":12.6},{"JD":2457060,"mag":12.9},{"JD":2457060,"mag":13.2},{"JD":2457060,"mag":13.5},{"JD":2457060,"mag":13.8},
{"JD":2457260,"mag":12.55},{"JD":2457260,"mag":12.85},{"JD":2457260,"mag":13.15},{"JD":2457260,"mag":13.45},{"JD":2457260,"mag":13.75},
{"JD":2457330,"mag":12.8},{"JD":2457330,"mag":13.0},{"JD":2457330,"mag":13.2},{"JD":2457330,"mag":13.35},
{"JD":2438730,"mag":14.0},{"JD":2440000,"mag":13.95},{"JD":2440500,"mag":14.1},{"JD":2441350,"mag":14.4},{"JD":2441470,"mag":14.2},{"JD":2441580,"mag":14.0},{"JD":2442100,"mag":13.95},{"JD":2443300,"mag":14.0},{"JD":2443900,"mag":14.0},{"JD":2444500,"mag":14.0},
{"JD":2445300,"mag":14.0},{"JD":2446000,"mag":14.0},{"JD":2446800,"mag":14.0},{"JD":2447910,"mag":14.2},{"JD":2448500,"mag":14.0},{"JD":2448990,"mag":14.1},{"JD":2449730,"mag":14.1},{"JD":2450400,"mag":14.0},{"JD":2451560,"mag":14.15},{"JD":2452200,"mag":14.0},
{"JD":2452760,"mag":14.1},{"JD":2453500,"mag":14.0},{"JD":2454300,"mag":14.0},{"JD":2455000,"mag":14.0},{"JD":2455610,"mag":14.1},{"JD":2455890,"mag":14.1},{"JD":2456700,"mag":14.0},{"JD":2457200,"mag":13.95},{"JD":2437900,"mag":12.4},{"JD":2438300,"mag":12.35},
{"JD":2439360,"mag":10.0},{"JD":2439340,"mag":10.5},{"JD":2439380,"mag":10.65},{"JD":2439340,"mag":10.8},{"JD":2439380,"mag":10.95},{"JD":2439340,"mag":11.1},{"JD":2439380,"mag":11.25},{"JD":2439340,"mag":11.4},{"JD":2439380,"mag":11.55},{"JD":2439340,"mag":11.7},{"JD":2439380,"mag":11.85},{"JD":2439340,"mag":12.0},{"JD":2439380,"mag":12.15},{"JD":2439340,"mag":12.3},
{"JD":2439760,"mag":11.6},{"JD":2439760,"mag":11.75},{"JD":2439760,"mag":11.9},{"JD":2439760,"mag":12.05},{"JD":2439760,"mag":12.2},{"JD":2439760,"mag":12.35},
{"JD":2440880,"mag":10.9},{"JD":2440920,"mag":11.05},{"JD":2440880,"mag":11.2},{"JD":2440920,"mag":11.35},{"JD":2440880,"mag":11.5},{"JD":2440920,"mag":11.65},{"JD":2440880,"mag":11.8},{"JD":2440920,"mag":11.95},{"JD":2440880,"mag":12.1},{"JD":2440920,"mag":12.25},{"JD":2440880,"mag":12.4},
{"JD":2441750,"mag":11.85},{"JD":2441750,"mag":12.0},{"JD":2441750,"mag":12.15},{"JD":2441750,"mag":12.3},{"JD":2442000,"mag":12.0},{"JD":2442000,"mag":12.2},
{"JD":2442500,"mag":9.4},{"JD":2442480,"mag":10.0},{"JD":2442520,"mag":10.15},{"JD":2442480,"mag":10.3},{"JD":2442520,"mag":10.45},{"JD":2442480,"mag":10.6},{"JD":2442520,"mag":10.75},{"JD":2442480,"mag":10.9},{"JD":2442520,"mag":11.05},{"JD":2442480,"mag":11.2},{"JD":2442520,"mag":11.35},{"JD":2442480,"mag":11.5},{"JD":2442520,"mag":11.65},{"JD":2442480,"mag":11.8},{"JD":2442520,"mag":11.95},{"JD":2442480,"mag":12.1},{"JD":2442520,"mag":12.25},{"JD":2442480,"mag":12.4},
{"JD":2443750,"mag":12.25},{"JD":2443750,"mag":12.4},
{"JD":2444700,"mag":10.2},{"JD":2444740,"mag":10.35},{"JD":2444700,"mag":10.5},{"JD":2444740,"mag":10.65},{"JD":2444700,"mag":10.8},{"JD":2444740,"mag":10.95},{"JD":2444700,"mag":11.1},{"JD":2444740,"mag":11.25},{"JD":2444700,"mag":11.4},{"JD":2444740,"mag":11.55},{"JD":2444700,"mag":11.7},{"JD":2444740,"mag":11.85},{"JD":2444700,"mag":12.0},{"JD":2444740,"mag":12.15},{"JD":2444700,"mag":12.3},
{"JD":2445060,"mag":12.0},{"JD":2445060,"mag":12.2},
{"JD":2445610,"mag":9.8},{"JD":2445650,"mag":9.95},{"JD":2445610,"mag":10.1},{"JD":2445650,"mag":10.25},{"JD":2445610,"mag":10.4},{"JD":2445650,"mag":10.55},{"JD":2445610,"mag":10.7},{"JD":2445650,"mag":10.85},{"JD":2445610,"mag":11.0},{"JD":2445650,"mag":11.15},{"JD":2445610,"mag":11.3},{"JD":2445650,"mag":11.45},{"JD":2445610,"mag":11.6},{"JD":2445650,"mag":11.75},{"JD":2445610,"mag":11.9},{"JD":2445650,"mag":12.05},{"JD":2445610,"mag":12.2},{"JD":2445650,"mag":12.35},
{"JD":2446350,"mag":10.0},{"JD":2446150,"mag":12.2},{"JD":2446150,"mag":12.35},
{"JD":2446810,"mag":9.4},{"JD":2446850,"mag":9.55},{"JD":2446810,"mag":9.7},{"JD":2446850,"mag":9.85},{"JD":2446810,"mag":10.0},{"JD":2446850,"mag":10.15},{"JD":2446810,"mag":10.3},{"JD":2446850,"mag":10.45},{"JD":2446810,"mag":10.6},{"JD":2446850,"mag":10.75},{"JD":2446810,"mag":10.9},{"JD":2446850,"mag":11.05},{"JD":2446810,"mag":11.2},{"JD":2446850,"mag":11.35},{"JD":2446810,"mag":11.5},{"JD":2446850,"mag":11.65},{"JD":2446810,"mag":11.8},{"JD":2446850,"mag":11.95},{"JD":2446810,"mag":12.1},{"JD":2446850,"mag":12.25},{"JD":2446810,"mag":12.4},
{"JD":2447850,"mag":9.4},{"JD":2447830,"mag":10.0},{"JD":2447870,"mag":10.15},{"JD":2447830,"mag":10.3},{"JD":2447870,"mag":10.45},{"JD":2447830,"mag":10.6},{"JD":2447870,"mag":10.75},{"JD":2447830,"mag":10.9},{"JD":2447870,"mag":11.05},{"JD":2447830,"mag":11.2},{"JD":2447870,"mag":11.35},{"JD":2447830,"mag":11.5},{"JD":2447870,"mag":11.65},{"JD":2447830,"mag":11.8},{"JD":2447870,"mag":11.95},{"JD":2447830,"mag":12.1},{"JD":2447870,"mag":12.25},{"JD":2447830,"mag":12.4},
{"JD":2448025,"mag":10.8},{"JD":2448600,"mag":11.2},{"JD":2448500,"mag":11.8},{"JD":2448500,"mag":12.0},{"JD":2448500,"mag":12.2},
{"JD":2449050,"mag":9.4},{"JD":2448920,"mag":9.6},{"JD":2448960,"mag":9.75},{"JD":2448920,"mag":9.9},{"JD":2448960,"mag":10.05},{"JD":2448920,"mag":10.2},{"JD":2448960,"mag":10.35},{"JD":2448920,"mag":10.5},{"JD":2448960,"mag":10.65},{"JD":2448920,"mag":10.8},{"JD":2448960,"mag":10.95},{"JD":2448920,"mag":11.1},{"JD":2448960,"mag":11.25},{"JD":2448920,"mag":11.4},{"JD":2448960,"mag":11.55},{"JD":2448920,"mag":11.7},{"JD":2448960,"mag":11.85},{"JD":2448920,"mag":12.0},{"JD":2448960,"mag":12.15},{"JD":2448920,"mag":12.3},
{"JD":2450190,"mag":9.0},{"JD":2450170,"mag":10.1},{"JD":2450210,"mag":10.25},{"JD":2450170,"mag":10.4},{"JD":2450210,"mag":10.55},{"JD":2450170,"mag":10.7},{"JD":2450210,"mag":10.85},{"JD":2450170,"mag":11.0},{"JD":2450210,"mag":11.15},{"JD":2450170,"mag":11.3},{"JD":2450210,"mag":11.45},{"JD":2450170,"mag":11.6},{"JD":2450210,"mag":11.75},{"JD":2450170,"mag":11.9},{"JD":2450210,"mag":12.05},{"JD":2450170,"mag":12.2},{"JD":2450210,"mag":12.35},
{"JD":2450700,"mag":10.7},
{"JD":2451310,"mag":9.8},{"JD":2451350,"mag":9.95},{"JD":2451310,"mag":10.1},{"JD":2451350,"mag":10.25},{"JD":2451310,"mag":10.4},{"JD":2451350,"mag":10.55},{"JD":2451310,"mag":10.7},{"JD":2451350,"mag":10.85},{"JD":2451310,"mag":11.0},{"JD":2451350,"mag":11.15},{"JD":2451310,"mag":11.3},{"JD":2451350,"mag":11.45},{"JD":2451310,"mag":11.6},{"JD":2451350,"mag":11.75},{"JD":2451310,"mag":11.9},{"JD":2451350,"mag":12.05},{"JD":2451310,"mag":12.2},{"JD":2451350,"mag":12.35},
{"JD":2452200,"mag":11.1},{"JD":2452700,"mag":11.1},
{"JD":2452410,"mag":9.2},{"JD":2452390,"mag":9.5},{"JD":2452430,"mag":9.65},{"JD":2452390,"mag":9.8},{"JD":2452430,"mag":9.95},{"JD":2452390,"mag":10.1},{"JD":2452430,"mag":10.25},{"JD":2452390,"mag":10.4},{"JD":2452430,"mag":10.55},{"JD":2452390,"mag":10.7},{"JD":2452430,"mag":10.85},{"JD":2452390,"mag":11.0},{"JD":2452430,"mag":11.15},{"JD":2452390,"mag":11.3},{"JD":2452430,"mag":11.45},{"JD":2452390,"mag":11.6},{"JD":2452430,"mag":11.75},{"JD":2452390,"mag":11.9},{"JD":2452430,"mag":12.05},{"JD":2452390,"mag":12.2},{"JD":2452430,"mag":12.35},
{"JD":2453040,"mag":11.5},{"JD":2453040,"mag":11.7},{"JD":2453040,"mag":11.9},{"JD":2453040,"mag":12.1},{"JD":2453040,"mag":12.3},
{"JD":2453360,"mag":10.3},{"JD":2453400,"mag":10.45},{"JD":2453360,"mag":10.6},{"JD":2453400,"mag":10.75},{"JD":2453360,"mag":10.9},{"JD":2453400,"mag":11.05},{"JD":2453360,"mag":11.2},{"JD":2453400,"mag":11.35},{"JD":2453360,"mag":11.5},{"JD":2453400,"mag":11.65},{"JD":2453360,"mag":11.8},{"JD":2453400,"mag":11.95},{"JD":2453360,"mag":12.1},{"JD":2453400,"mag":12.25},{"JD":2453360,"mag":12.4},
{"JD":2453600,"mag":12.1},
{"JD":2454180,"mag":10.5},{"JD":2454160,"mag":10.9},{"JD":2454200,"mag":11.05},{"JD":2454160,"mag":11.2},{"JD":2454200,"mag":11.35},{"JD":2454160,"mag":11.5},{"JD":2454200,"mag":11.65},{"JD":2454160,"mag":11.8},{"JD":2454200,"mag":11.95},{"JD":2454160,"mag":12.1},{"JD":2454200,"mag":12.25},{"JD":2454160,"mag":12.4},
{"JD":2454468,"mag":7.8},{"JD":2454753,"mag":8.8},{"JD":2456007,"mag":5.8},
{"JD":2454750,"mag":11.7},{"JD":2454750,"mag":11.85},{"JD":2454750,"mag":12.0},{"JD":2454750,"mag":12.15},{"JD":2454750,"mag":12.3},
{"JD":2455300,"mag":9.5},{"JD":2455340,"mag":9.65},{"JD":2455300,"mag":9.8},{"JD":2455340,"mag":9.95},{"JD":2455300,"mag":10.1},{"JD":2455340,"mag":10.25},{"JD":2455300,"mag":10.4},{"JD":2455340,"mag":10.55},{"JD":2455300,"mag":10.7},{"JD":2455340,"mag":10.85},{"JD":2455300,"mag":11.0},{"JD":2455340,"mag":11.15},{"JD":2455300,"mag":11.3},{"JD":2455340,"mag":11.45},{"JD":2455300,"mag":11.6},{"JD":2455340,"mag":11.75},{"JD":2455300,"mag":11.9},{"JD":2455340,"mag":12.05},{"JD":2455300,"mag":12.2},{"JD":2455340,"mag":12.35},
{"JD":2455850,"mag":12.2},{"JD":2455850,"mag":12.35},{"JD":2456400,"mag":12.0},{"JD":2456400,"mag":12.15},{"JD":2456400,"mag":12.3},
{"JD":2457130,"mag":9.6},{"JD":2457170,"mag":9.75},{"JD":2457130,"mag":9.9},{"JD":2457170,"mag":10.05},{"JD":2457130,"mag":10.2},{"JD":2457170,"mag":10.35},{"JD":2457130,"mag":10.5},{"JD":2457170,"mag":10.65},{"JD":2457130,"mag":10.8},{"JD":2457170,"mag":10.95},{"JD":2457130,"mag":11.1},{"JD":2457170,"mag":11.25},{"JD":2457130,"mag":11.4},{"JD":2457170,"mag":11.55},{"JD":2457130,"mag":11.7},{"JD":2457170,"mag":11.85},{"JD":2457130,"mag":12.0},{"JD":2457170,"mag":12.15},{"JD":2457130,"mag":12.3},{"JD":2457170,"mag":12.45}
]},
"mark":{"type":"circle","color":"#0000ff","stroke":"black","strokeWidth":1.6,"size":80,"opacity":1},
"encoding":{
"x":{"field":"JD","type":"quantitative","scale":{"domain":[2410000,2460000],"nice":false,"zero":false},"axis":{"orient":"bottom","values":[2410000,2420000,2430000,2440000,2450000,2460000],"format":"d","title":"JD","labelPadding":26,"titlePadding":-10}},
"y":{"field":"mag","type":"quantitative","scale":{"domain":[-2,16],"reverse":true,"nice":false,"zero":false},"axis":{"orient":"left","values":[-2,0,2,4,6,8,10,12,14,16],"format":"d","title":"mag","labelPadding":17,"titlePadding":6}}
}},
{"data":{"values":[{"JD":2410000,"mag":-2}]},
"mark":{"type":"circle","opacity":0},
"encoding":{
"x":{"field":"JD","type":"quantitative","axis":{"orient":"top","values":[2410000,2420000,2430000,2440000,2450000,2460000],"labels":false,"title":null}},
"y":{"field":"mag","type":"quantitative","axis":{"orient":"right","values":[-2,0,2,4,6,8,10,12,14,16],"labels":false,"title":null}}
}}
]
}
